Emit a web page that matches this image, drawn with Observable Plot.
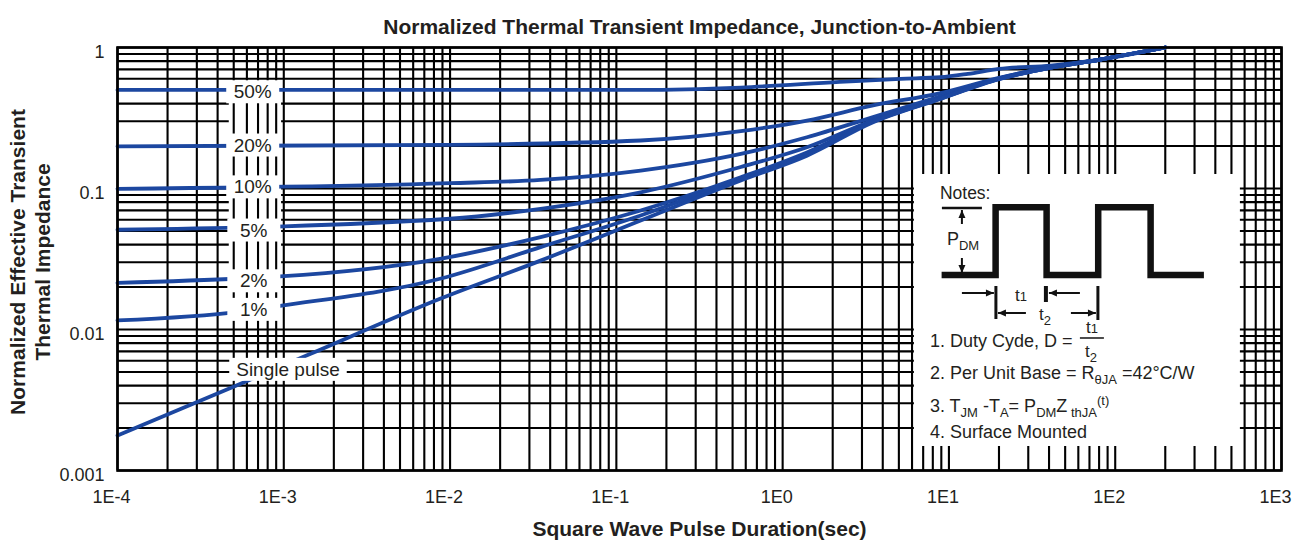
<!DOCTYPE html>
<html><head><meta charset="utf-8">
<script src="https://cdn.jsdelivr.net/npm/d3@7"></script>
<script src="https://cdn.jsdelivr.net/npm/@observablehq/plot@0.6"></script>
<style>
body{margin:0;background:#fff;}
svg text{white-space:pre;}
</style>
</head><body><div id="chart"></div>
<script>
// ---------- data ----------
const series = ["50%","20%","10%","5%","2%","1%","Single pulse"];

const t50 = [1e-4, 1e-2, 0.14, 0.56, 2.2, 5.1, 8.9, 13, 20, 41, 81, 200];
const z50 = [0.5, 0.5, 0.5, 0.52, 0.57, 0.6, 0.615, 0.65, 0.705, 0.745, 0.82, 1.0];

const t20 = [1e-4, 1e-2, 0.14, 0.56, 1.4, 3.5, 8.9, 20, 41, 81, 200];
const z20 = [0.199, 0.204, 0.219, 0.255, 0.303, 0.388, 0.475, 0.61, 0.725, 0.822, 1.0];

const t10 = [1e-4, 1e-2, 0.035, 0.14, 0.56, 1.4, 3.5, 8.9, 20, 41, 81, 200];
const z10 = [0.0995, 0.109, 0.115, 0.134, 0.176, 0.231, 0.321, 0.45, 0.605, 0.725, 0.822, 1.0];

const t05 = [1e-4, 1e-2, 0.035, 0.14, 0.56, 1.4, 3.5, 8.9, 20, 41, 81, 200];
const z05 = [0.051, 0.061, 0.0718, 0.094, 0.142, 0.196, 0.305, 0.44, 0.6, 0.72, 0.822, 1.0];

const t02 = [1e-4, 5.5e-4, 9.5e-4, 8.7e-3, 0.035, 0.14, 0.56, 1.4, 3.5, 8.9, 20, 41, 81, 200];
const z02 = [0.0214, 0.023, 0.0238, 0.0317, 0.0452, 0.0698, 0.12, 0.18, 0.30, 0.437, 0.6, 0.72, 0.822, 1.0];

const t01 = [1e-4, 5.5e-4, 9.5e-4, 8.7e-3, 0.035, 0.14, 0.56, 1.4, 3.5, 8.9, 20, 41, 81, 200];
const z01 = [0.0116, 0.0134, 0.0147, 0.0229, 0.0384, 0.0644, 0.1175, 0.176, 0.299, 0.435, 0.598, 0.72, 0.822, 1.0];

const tSP = [1e-4, 5.5e-4, 1.45e-3, 8.7e-3, 0.035, 0.14, 0.56, 1.4, 3.5, 8.9, 20, 41, 81, 200];
const zSP = [0.00177, 0.00412, 0.00673, 0.01652, 0.0308, 0.0593, 0.114, 0.171, 0.295, 0.432, 0.596, 0.72, 0.822, 1.0];

const labelT = [6.5e-4, 6.5e-4, 6.5e-4, 6.6e-4, 6.6e-4, 6.6e-4, 1.06e-3];
const labelZ = [0.482, 0.202, 0.102, 0.0504, 0.022, 0.0138, 0.00518];

const xTicks = [1e-4, 1e-3, 1e-2, 1e-1, 1, 10, 100, 1000];
const xTickLabels = ["1E-4","1E-3","1E-2","1E-1","1E0","1E1","1E2","1E3"];
const yTicks = [0.001, 0.01, 0.1, 1];
const yTickLabels = ["0.001","0.01","0.1","1"];

const title = "Normalized Thermal Transient Impedance, Junction-to-Ambient";
const xTitle = "Square Wave Pulse Duration(sec)";
const yTitle1 = "Normalized Effective Transient";
const yTitle2 = "Thermal Impedance";

// notes inset box extent (data space)
const notesX = [6.2, 566];
const notesZ = [0.00148, 0.1257];
// label column where horizontal grid is blanked (data space)
const labelColX = [4.7e-4, 9.7e-4];
const labelColZ = [0.0112, 0.58];

// ---------- build ----------
const curveT = [t50, t20, t10, t05, t02, t01, tSP];
const curveZ = [z50, z20, z10, z05, z02, z01, zSP];
const rows = series.flatMap((s, i) => curveT[i].map((t, j) => ({series: s, t, z: curveZ[i][j]})));
const labels = series.map((s, i) => ({label: s, t: labelT[i], z: labelZ[i]}));

const xGrid = [];
for (let e = -4; e < 3; e++) for (let k = 1; k < 10; k++) xGrid.push(k * Math.pow(10, e));
xGrid.push(1000);
const yGrid = [];
for (let e = -3; e < 0; e++) for (let k = 1; k < 10; k++) yGrid.push(k * Math.pow(10, e));
yGrid.push(1);

const INK = "#231f20";
const BLUE = "#1c47a0";
const FONT = "'Liberation Sans', Arial, Helvetica, sans-serif";

const plot = Plot.plot({
  width: 1300, height: 548,
  marginTop: 47, marginBottom: 78, marginLeft: 117, marginRight: 19,
  style: {fontFamily: FONT, background: "#fff", color: INK, overflow: "visible"},
  x: {type: "log", domain: [1e-4, 1e3]},
  y: {type: "log", domain: [1e-3, 1]},
  marks: [
    Plot.ruleY(yGrid, {stroke: "#000", strokeWidth: 2.1}),
    Plot.rect([{x1: labelColX[0], x2: labelColX[1], y1: labelColZ[0], y2: labelColZ[1]}],
      {x1: "x1", x2: "x2", y1: "y1", y2: "y2", fill: "#fff"}),
    Plot.ruleX(xGrid, {stroke: "#000", strokeWidth: 2.1}),
    Plot.rect([{x1: notesX[0], x2: notesX[1], y1: notesZ[0], y2: notesZ[1]}],
      {x1: "x1", x2: "x2", y1: "y1", y2: "y2", fill: "#fff"}),
    Plot.line(rows, {x: "t", y: "z", z: "series", stroke: BLUE, strokeWidth: 3.8, curve: "monotone-x"}),
    Plot.text(labels, {x: "t", y: "z", text: "label", fontSize: 19, fill: INK}),
    Plot.frame({stroke: "#000", strokeWidth: 2.6}),
    Plot.axisX({ticks: xTicks, tickFormat: d => xTickLabels[xTicks.indexOf(d)], tickSize: 0, tickPadding: 20, fontSize: 18, dx: -6, label: null, fill: INK}),
    Plot.axisY({ticks: yTicks, tickFormat: d => yTickLabels[yTicks.indexOf(d)], tickSize: 0, tickPadding: 13, fontSize: 18, dy: 5, label: null, fill: INK}),
    Plot.text([title], {frameAnchor: "top", dy: -28, fontSize: 21, fontWeight: "bold", fill: INK}),
    Plot.text([xTitle], {frameAnchor: "bottom", dy: 65, fontSize: 21, fontWeight: "bold", fill: INK}),
    Plot.text([yTitle1], {frameAnchor: "left", textAnchor: "middle", dx: -99, dy: 3, rotate: -90, fontSize: 21, fontWeight: "bold", fill: INK}),
    Plot.text([yTitle2], {frameAnchor: "left", textAnchor: "middle", dx: -74, dy: 3, rotate: -90, fontSize: 21, fontWeight: "bold", fill: INK})
  ]
});
document.getElementById("chart").appendChild(plot);

// white boxes behind curve labels
const labelSet = new Set(series);
plot.querySelectorAll("text").forEach(el => {
  if (!labelSet.has(el.textContent)) return;
  const b = el.getBBox();
  const w = Math.max(b.width + 14, 53), h = 23;
  const cx = b.x + b.width / 2, cy = b.y + b.height / 2;
  const r = document.createElementNS("http://www.w3.org/2000/svg", "rect");
  r.setAttribute("x", cx - w / 2); r.setAttribute("y", cy - h / 2);
  r.setAttribute("width", w); r.setAttribute("height", h);
  r.setAttribute("fill", "#fff");
  const tr = el.getAttribute("transform");
  if (tr) r.setAttribute("transform", tr);
  el.parentNode.insertBefore(r, el);
});

// notes inset
const sx = plot.scale("x"), sy = plot.scale("y");
const ox = sx.apply(notesX[0]), oy = sy.apply(notesZ[1]);
const svg = d3.select(plot);
const g = svg.append("g").attr("transform", `translate(${ox},${oy})`)
  .attr("fill", INK).attr("font-family", FONT).attr("font-size", 18).attr("text-anchor", "start");

g.append("text").attr("x", 26).attr("y", 25).attr("font-size", 17.5).text("Notes:");
g.append("path").attr("d", "M27.7,101H81.7V33.3H132.7V101H184.3V33.3H236.7V101H290")
  .attr("fill", "none").attr("stroke", "#111").attr("stroke-width", 6.5).attr("stroke-linejoin", "miter");
g.append("path").attr("d", "M28,34H68").attr("stroke", "#111").attr("stroke-width", 2.5);

function arrow(x1, y1, x2, y2) {
  g.append("line").attr("x1", x1).attr("y1", y1).attr("x2", x2).attr("y2", y2)
    .attr("stroke", "#111").attr("stroke-width", 2);
  const a = Math.atan2(y2 - y1, x2 - x1), L = 8, W = 3.5;
  const bx = x2 - L * Math.cos(a), by = y2 - L * Math.sin(a);
  const px = -Math.sin(a) * W, py = Math.cos(a) * W;
  g.append("path").attr("d", `M${x2},${y2}L${bx + px},${by + py}L${bx - px},${by - py}Z`).attr("fill", "#111");
}
function vtick(x, y1, y2, w) {
  g.append("line").attr("x1", x).attr("x2", x).attr("y1", y1).attr("y2", y2)
    .attr("stroke", "#111").attr("stroke-width", w);
}
arrow(48, 50, 48, 36);
arrow(48, 84, 48, 99);
arrow(48, 119, 80, 119);
arrow(166, 119, 135, 119);
arrow(112, 139, 84, 139);
arrow(157, 139, 182, 139);
vtick(82, 112, 145, 3);
vtick(132, 112, 128, 4);
vtick(184, 112, 146, 3);

function rich(x, y, parts, size) {
  const t = g.append("text").attr("x", x).attr("y", y).attr("font-size", size || 18);
  let cur = 0;
  parts.forEach(([s, kind, fs]) => {
    const shift = kind === "sub" ? 5 : kind === "sup" ? -7 : 0;
    const sp = t.append("tspan").attr("dy", shift - cur).text(s);
    if (kind) sp.attr("font-size", fs || 13);
    cur = shift;
  });
  return t;
}
rich(33, 71, [["P"], ["DM", "sub"]]);
rich(101, 127, [["t"], ["1", "n"]], 17);
rich(125, 146, [["t"], ["2", "sub"]], 17);
rich(16, 173, [["1. Duty Cyde, D ="]]);
rich(172, 159, [["t"], ["1", "n"]], 17);
g.append("path").attr("d", "M166,164H190").attr("stroke", "#111").attr("stroke-width", 1.5);
rich(171, 183, [["t"], ["2", "sub"]], 17);
rich(16, 205, [["2. Per Unit Base = R"], ["θJA", "sub"], [" =42°C/W"]]);
rich(16, 238, [["3. T"], ["JM", "sub"], [" -T"], ["A", "sub"], ["= P"], ["DM", "sub"], ["Z"], [" thJA", "sub"], ["(t)", "sup"]]);
rich(16, 264, [["4. Surface Mounted"]]);
</script>
</body></html>
